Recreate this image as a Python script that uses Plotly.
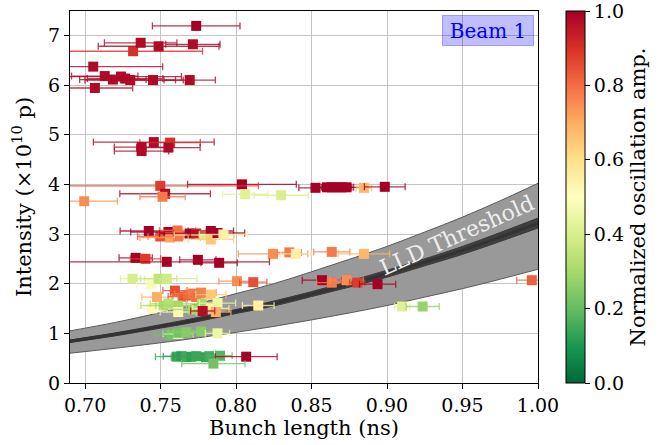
import plotly.graph_objects as go
from plotly.colors import diverging, make_colorscale, sample_colorscale, unlabel_rgb

# ---- data ----
bunch_length = [
    0.7736, 0.7318, 0.7487, 0.7368, 0.7714, 0.7054, 0.7130, 0.7184, 0.7238, 0.7265,
    0.7299, 0.7450, 0.7693, 0.7065, 0.7455, 0.7563, 0.7374, 0.7374, 0.7552, 0.8039,
    0.7498, 0.7530, 0.7513, 0.6994, 0.8060, 0.8299, 0.8526, 0.8602, 0.8634, 0.8667,
    0.8699, 0.8732, 0.8847, 0.8985, 0.7422, 0.7498, 0.7552, 0.7563, 0.7612, 0.7617,
    0.7693, 0.7736, 0.7790, 0.7833, 0.7833, 0.7877, 0.7916, 0.8245, 0.8353, 0.8396,
    0.8634, 0.8847, 0.7335, 0.7400, 0.7541, 0.7747, 0.7888, 0.7314, 0.7440, 0.7487,
    0.7541, 0.8006, 0.8114, 0.8569, 0.8634, 0.8732, 0.8803, 0.8937, 0.9959, 0.7595,
    0.7476, 0.7650, 0.7682, 0.7714, 0.7736, 0.7768, 0.7833, 0.7444, 0.7520, 0.7552,
    0.7617, 0.7617, 0.7714, 0.7773, 0.7833, 0.7877, 0.7866, 0.7779, 0.8147, 0.9100,
    0.9236, 0.7563, 0.7617, 0.7617, 0.7671, 0.7768, 0.7877, 0.7606, 0.7638, 0.7671,
    0.7703, 0.7736, 0.7801, 0.7822, 0.7894, 0.8067, 0.7850,
]
bunch_length_err = [
    0.029, 0.046, 0.040, 0.024, 0.018, 0.046, 0.022, 0.022, 0.040, 0.025,
    0.030, 0.020, 0.017, 0.025, 0.040, 0.020, 0.018, 0.018, 0.021, 0.036,
    0.065, 0.030, 0.015, 0.022, 0.015, 0.018, 0.011, 0.010, 0.008, 0.010,
    0.008, 0.012, 0.005, 0.0135, 0.019, 0.015, 0.025, 0.020, 0.012, 0.020,
    0.020, 0.015, 0.020, 0.015, 0.015, 0.018, 0.016, 0.023, 0.008, 0.010,
    0.012, 0.017, 0.011, 0.010, 0.068, 0.012, 0.012, 0.008, 0.010, 0.012,
    0.020, 0.012, 0.009, 0.013, 0.010, 0.011, 0.005, 0.012, 0.010, 0.008,
    0.010, 0.010, 0.010, 0.012, 0.012, 0.010, 0.010, 0.010, 0.015, 0.012,
    0.015, 0.012, 0.015, 0.010, 0.012, 0.012, 0.010, 0.008, 0.0105, 0.005,
    0.011, 0.010, 0.010, 0.010, 0.012, 0.012, 0.008, 0.014, 0.012, 0.010,
    0.012, 0.010, 0.012, 0.010, 0.008, 0.0205, 0.021,
]
intensity = [
    7.19, 6.68, 6.78, 6.85, 6.82, 6.37, 6.18, 6.11, 6.17, 6.13,
    6.10, 6.10, 6.10, 5.94, 4.85, 4.84, 4.75, 4.67, 4.74, 4.00,
    3.97, 3.81, 3.75, 3.66, 3.80, 3.78, 3.93, 3.94, 3.94, 3.94,
    3.94, 3.94, 3.93, 3.95, 3.06, 2.95, 3.04, 2.93, 3.07, 2.95,
    3.01, 3.01, 2.98, 3.06, 2.89, 3.02, 2.99, 2.60, 2.63, 2.60,
    2.64, 2.60, 2.52, 2.50, 2.44, 2.48, 2.42, 2.10, 1.99, 2.10,
    2.10, 2.05, 2.03, 2.07, 2.02, 2.07, 2.02, 1.99, 2.07, 1.86,
    1.73, 1.74, 1.76, 1.80, 1.73, 1.82, 1.78, 1.50, 1.56, 1.60,
    1.56, 1.43, 1.48, 1.60, 1.50, 1.61, 1.43, 1.45, 1.56, 1.54,
    1.54, 0.97, 0.99, 1.01, 1.02, 1.04, 1.00, 0.53, 0.54, 0.52,
    0.53, 0.54, 0.52, 0.54, 0.55, 0.53, 0.39,
]
osc_amp = [
    1.00, 0.90, 0.98, 0.98, 0.98, 0.98, 0.98, 0.98, 0.98, 0.98,
    0.98, 0.98, 0.98, 0.98, 0.98, 0.90, 0.98, 0.98, 0.98, 1.00,
    0.88, 0.98, 0.78, 0.75, 0.42, 0.40, 1.00, 1.00, 1.00, 1.00,
    1.00, 1.00, 0.68, 1.00, 1.00, 0.85, 1.00, 0.72, 0.80, 0.78,
    1.00, 0.93, 0.40, 1.00, 0.65, 1.00, 0.55, 0.75, 0.78, 0.55,
    0.78, 0.68, 1.00, 0.88, 1.00, 1.00, 1.00, 0.40, 0.48, 0.35,
    0.38, 0.75, 0.85, 1.00, 0.78, 0.75, 0.88, 1.00, 0.82, 0.85,
    0.70, 0.85, 0.82, 0.78, 0.80, 0.77, 0.65, 0.52, 0.30, 0.33,
    0.30, 0.52, 0.30, 0.30, 0.55, 0.45, 0.70, 0.97, 0.55, 0.42,
    0.28, 0.22, 0.50, 0.22, 0.25, 0.25, 0.45, 0.14, 0.12, 0.15,
    0.12, 0.14, 0.13, 0.15, 0.18, 1.00, 0.22,
]

# LLD threshold curve (centre, uncertainty band, dark core)
thr_x = [0.69, 0.72, 0.75, 0.775, 0.80, 0.825, 0.85, 0.875, 0.90, 0.925, 0.95, 0.975, 1.00]
thr_center = [0.84, 0.98, 1.14, 1.28, 1.44, 1.60, 1.79, 1.99, 2.20, 2.43, 2.67, 2.94, 3.22]
thr_upper = [1.05, 1.22, 1.42, 1.60, 1.80, 2.00, 2.24, 2.49, 2.75, 3.04, 3.34, 3.67, 4.02]
thr_lower = [0.60, 0.70, 0.81, 0.91, 1.02, 1.14, 1.27, 1.41, 1.56, 1.73, 1.90, 2.09, 2.29]
thr_core_lo = [0.815, 0.95, 1.105, 1.24, 1.40, 1.55, 1.74, 1.93, 2.13, 2.36, 2.59, 2.85, 3.12]
thr_core_hi = [0.865, 1.01, 1.175, 1.32, 1.48, 1.65, 1.84, 2.05, 2.27, 2.50, 2.75, 3.03, 3.32]

x_ticks = [0.70, 0.75, 0.80, 0.85, 0.90, 0.95, 1.00]
y_ticks = [0, 1, 2, 3, 4, 5, 6, 7]
cbar_ticks = [0.0, 0.2, 0.4, 0.6, 0.8, 1.0]

FONT = "DejaVu Serif"
FS = 19      # tick labels
FT = 21      # axis titles

scale = make_colorscale(list(diverging.RdYlGn_r))

fig = go.Figure()

# threshold band
fig.add_trace(go.Scatter(x=thr_x, y=thr_lower, mode="lines", line=dict(color="#5a5a5a", width=1, shape="spline"),
                         hoverinfo="skip", showlegend=False))
fig.add_trace(go.Scatter(x=thr_x, y=thr_upper, mode="lines", line=dict(color="#5a5a5a", width=1, shape="spline"),
                         fill="tonexty", fillcolor="#999999", hoverinfo="skip", showlegend=False))
fig.add_trace(go.Scatter(x=thr_x, y=thr_core_lo, mode="lines", line=dict(color="#3a3a3a", width=1, shape="spline"),
                         hoverinfo="skip", showlegend=False))
fig.add_trace(go.Scatter(x=thr_x, y=thr_core_hi, mode="lines", line=dict(color="#3a3a3a", width=1, shape="spline"),
                         fill="tonexty", fillcolor="#3f3f3f", hoverinfo="skip", showlegend=False))
fig.add_trace(go.Scatter(x=thr_x, y=thr_center, mode="lines", line=dict(color="#333333", width=3, shape="spline"),
                         hoverinfo="skip", showlegend=False))

# points with coloured horizontal error bars
for xv, ev, yv, cv in zip(bunch_length, bunch_length_err, intensity, osc_amp):
    col = sample_colorscale(scale, [cv])[0]
    r, g, b = unlabel_rgb(col)
    fig.add_trace(go.Scatter(
        x=[xv], y=[yv], mode="markers",
        marker=dict(symbol="square", size=10, color=[cv], coloraxis="coloraxis", line=dict(width=0)),
        error_x=dict(type="data", array=[ev], color=f"rgba({int(r)},{int(g)},{int(b)},0.8)",
                     thickness=1.3, width=3.5),
        showlegend=False,
    ))

fig.add_annotation(x=0.9461, y=2.97, xref="x", yref="y", text="LLD Threshold", showarrow=False,
                   textangle=-24, font=dict(family=FONT, size=22, color="#eeeeee"))

fig.add_annotation(x=0.9916, y=0.989, xref="paper", yref="paper", xanchor="right", yanchor="top",
                   text="Beam 1", showarrow=False, width=88, height=27, borderpad=1, borderwidth=1,
                   bgcolor="rgba(0,0,255,0.25)", bordercolor="rgba(0,0,255,0.3)",
                   font=dict(family=FONT, size=20, color="#0000ff"))

axis_common = dict(showline=True, mirror=True, linecolor="black", linewidth=1,
                   ticks="outside", ticklen=5, tickwidth=1, tickcolor="black",
                   showgrid=True, gridcolor="#c4c4c4", gridwidth=1.3, zeroline=False,
                   tickfont=dict(family=FONT, size=FS, color="black"), automargin=False)

fig.update_layout(
    width=662, height=445,
    margin=dict(l=70, r=115, t=11, b=62),
    plot_bgcolor="white", paper_bgcolor="white",
    xaxis=dict(range=[0.69, 1.0], tickvals=x_ticks, ticktext=[f"{v:.2f}" for v in x_ticks],
               title=dict(text="Bunch length (ns)", font=dict(family=FONT, size=FT, color="black"), standoff=3),
               **axis_common),
    yaxis=dict(range=[0, 7.49], tickvals=y_ticks,
               title=dict(text="Intensity (×10<sup>10</sup> p)", font=dict(family=FONT, size=FT, color="black"),
                          standoff=10),
               **axis_common),
    coloraxis=dict(colorscale=scale, cmin=0, cmax=1,
                   colorbar=dict(x=1.0608, xanchor="left", y=0.5, yanchor="middle", len=1, lenmode="fraction",
                                 thickness=19, thicknessmode="pixels", xpad=0, ypad=0,
                                 outlinewidth=1, outlinecolor="black",
                                 ticks="outside", ticklen=5, tickcolor="black",
                                 ticklabeloverflow="allow",
                                 tickvals=cbar_ticks, ticktext=[f"{v:.1f}" for v in cbar_ticks],
                                 tickfont=dict(family=FONT, size=FS, color="black"),
                                 title=dict(text="Normalized oscillation amp.", side="right",
                                            font=dict(family=FONT, size=FT, color="black")))),
)

fig.write_html("out.html")
